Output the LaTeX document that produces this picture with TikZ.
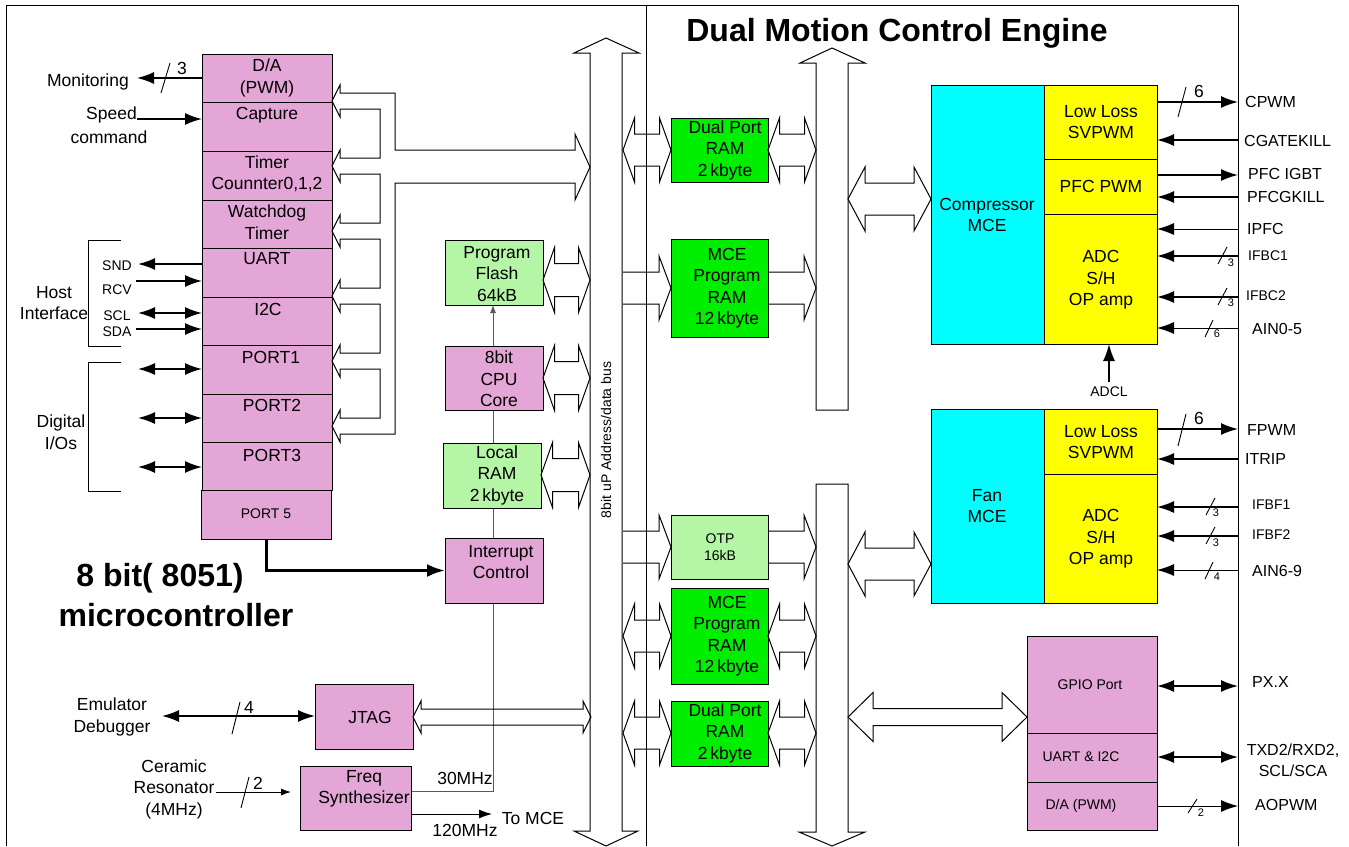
\documentclass[tikz,border=0pt]{standalone}
\usepackage{fontspec}
\setmainfont{Liberation Sans}
\usetikzlibrary{arrows.meta,backgrounds}
\definecolor{pinkc}{RGB}{228,166,214}
\definecolor{lgreen}{RGB}{180,246,166}
\definecolor{bgreen}{RGB}{0,238,0}
\definecolor{cyanc}{RGB}{0,255,255}
\definecolor{yelc}{RGB}{255,255,0}
\newcommand\blk[6]{\node[#6, minimum width={(#4-#2)*1pt}, minimum height={(#5-#3)*1pt}] (#1) at (#2,#3) {};}
\newcommand\hdbl[6]{\draw[hollow] (#1,#3) -- ({#1+#6},{#3-#5}) -- ({#1+#6},{#3-#4}) -- ({#2-#6},{#3-#4}) -- ({#2-#6},{#3-#5}) -- (#2,#3) -- ({#2-#6},{#3+#5}) -- ({#2-#6},{#3+#4}) -- ({#1+#6},{#3+#4}) -- ({#1+#6},{#3+#5}) -- cycle;}
\newcommand\hsgl[6]{\draw[hollow] (#1,{#3-#4}) -- ({#2-#6},{#3-#4}) -- ({#2-#6},{#3-#5}) -- (#2,#3) -- ({#2-#6},{#3+#5}) -- ({#2-#6},{#3+#4}) -- (#1,{#3+#4});}
\begin{document}
\begin{tikzpicture}[x=1pt,y=-1pt,
  box/.style={draw, line width=1pt, inner sep=0pt, outer sep=0pt, anchor=north west},
  pk/.style={box, fill=pinkc},
  lg/.style={box, fill=lgreen},
  bg/.style={box, fill=bgreen},
  cy/.style={box, fill=cyanc},
  ye/.style={box, fill=yelc},
  T/.style={inner sep=0pt, align=center, font=\fontsize{17.5}{21.5}\selectfont},
  S/.style={inner sep=0pt, align=center, font=\fontsize{14}{17}\selectfont},
  M/.style={inner sep=0pt, align=center, font=\fontsize{16}{21}\selectfont},
  tiny/.style={inner sep=0pt, font=\fontsize{11}{12}\selectfont},
  big/.style={inner sep=0pt, font=\fontsize{32}{36}\selectfont\bfseries},
  sig/.style={line width=1.6pt},
  thn/.style={line width=0.9pt},
  clk/.style={line width=0.9pt, draw=black!65},
  hollow/.style={draw, line width=1pt, line join=miter},
  tip/.style={-{Latex[length=17pt,width=12pt]}},
  dbl/.style={{Latex[length=17pt,width=12pt]}-{Latex[length=17pt,width=12pt]}},
]
\useasboundingbox (0,0) rectangle (1349,846);
% frame and divider
\coordinate (rb) at (1238,0);
\draw[line width=1pt] (6,846) -- (6,5) -- (1238,5) -- (1238,846);
\draw[line width=1pt] (646,5) -- (646,846);

% ---------- left column stack ----------
\blk{da}{202}{54}{332}{102}{pk}
\blk{cap}{202}{102}{332}{151}{pk}
\blk{tmr}{202}{151}{332}{200}{pk}
\blk{wdt}{202}{200}{332}{248}{pk}
\blk{uart}{202}{248}{332}{297}{pk}
\blk{iic}{202}{297}{332}{345}{pk}
\blk{pa}{202}{345}{332}{394}{pk}
\blk{pb}{202}{394}{332}{442}{pk}
\blk{pc}{202}{442}{332}{490}{pk}
\blk{pe}{201}{490}{331}{539}{pk}
\node[T] at (267,78) {D/A\\(PWM)};
\node[T] at (267,115) {Capture};
\node[T] at (267,174) {Timer\\Counnter0,1,2};
\node[T] at (267,222) {Watchdog\\Timer};
\node[T] at (267,259) {UART};
\node[T] at (268,309) {I2C};
\node[T] at (271,357) {PORT1};
\node[T] at (272,405) {PORT2};
\node[T] at (272,455) {PORT3};
\node[S] at (266,514) {PORT 5};

% ---------- middle blocks ----------
\begin{pgfonlayer}{background}
\draw[clk, -{Latex[length=8pt,width=6pt]}] (411,791) -- (493,791) -- (493,305);
\end{pgfonlayer}
\blk{flash}{445}{240}{543}{305}{lg}
\blk{cpu}{445}{346}{543}{410}{pk}
\blk{lram}{443}{443}{541}{508}{lg}
\blk{intc}{445}{538}{543}{603}{pk}
\blk{jtag}{315}{684}{413}{749}{pk}
\blk{freq}{300}{766}{411}{830}{pk}
\node[T] at (497,274) {Program\\Flash\\64kB};
\node[T] at (499,379) {8bit\\CPU\\Core};
\node[T] at (497,475) {Local\\RAM\\2\,kbyte};
\node[T] at (501,562) {Interrupt\\Control};
\node[T] at (370,717) {JTAG};
\node[T] at (364,789) {Freq\\Synthesizer};

% ---------- right blocks ----------
\blk{dp1}{671}{118}{768}{182}{bg}
\blk{mp1}{671}{239}{768}{337}{bg}
\blk{otp}{671}{515}{768}{579}{lg}
\blk{mp2}{671}{588}{768}{684}{bg}
\blk{dp2}{671}{701}{768}{766}{bg}
\blk{cmce}{931}{85}{1044}{344}{cy}
\blk{csv}{1044}{85}{1157}{159}{ye}
\blk{cpfc}{1044}{159}{1157}{214}{ye}
\blk{cadc}{1044}{214}{1157}{344}{ye}
\blk{fmce}{931}{409}{1044}{603}{cy}
\blk{fsv}{1044}{409}{1157}{474}{ye}
\blk{fadc}{1044}{474}{1157}{603}{ye}
\blk{gpio}{1027}{636}{1157}{733}{pk}
\blk{guart}{1027}{733}{1157}{782}{pk}
\blk{gda}{1027}{782}{1157}{830}{pk}
\node[T] at (725,150) {Dual Port\\RAM\\2\,kbyte};
\node[T] at (727,288) {MCE\\Program\\RAM\\12\,kbyte};
\node[S] at (720,547) {OTP\\16kB};
\node[T] at (727,636) {MCE\\Program\\RAM\\12\,kbyte};
\node[T] at (725,733) {Dual Port\\RAM\\2\,kbyte};
\node[T] at (987,215) {Compressor\\MCE};
\node[T] at (1101,122) {Low Loss\\SVPWM};
\node[T] at (1101,186) {PFC PWM};
\node[T] at (1101,280) {ADC\\S/H\\OP amp};
\node[T] at (987,506) {Fan\\MCE};
\node[T] at (1101,442) {Low Loss\\SVPWM};
\node[T] at (1101,539) {ADC\\S/H\\OP amp};
\node[S] at (1090,685) {GPIO Port};
\node[S] at (1081,757) {UART \& I2C};
\node[S] at (1081,806) {D/A (PWM)};

% ---------- titles ----------
\node[big] at (897,33) {Dual Motion Control Engine};
\node[big] at (160,578) {8 bit( 8051)};
\node[big] at (176,615) {microcontroller};

% ---------- hollow buses ----------
% comb on the left column
\draw[hollow] (340,93) -- (395,93) -- (395,150) -- (575,150) -- (575,134) -- (590,167) -- (575,200) -- (575,183) -- (395,183) -- (395,434) -- (340,434) -- (340,442) -- (332,426) -- (340,410) -- (340,418) -- (380,418) -- (380,369) -- (340,369) -- (340,377) -- (332,361) -- (340,345) -- (340,353) -- (380,353) -- (380,304) -- (340,304) -- (340,312) -- (332,296) -- (340,280) -- (340,288) -- (380,288) -- (380,239) -- (340,239) -- (340,247) -- (332,231) -- (340,215) -- (340,223) -- (380,223) -- (380,174) -- (340,174) -- (340,182) -- (332,166) -- (340,150) -- (340,158) -- (380,158) -- (380,109) -- (340,109) -- (340,117) -- (332,101) -- (340,85) -- cycle;
% 8 bit bus
\draw[hollow] (590,53) -- (574,53) -- (606,38) -- (639,53) -- (622,53) -- (622,831) -- (638,831) -- (606,846) -- (574,831) -- (590,831) -- cycle;
\node[S, rotate=90] at (606,440) {8bit uP Address/data bus};
% MCE buses
\draw[hollow] (816,410) -- (816,63) -- (800,63) -- (832,48) -- (865,63) -- (848,63) -- (848,410) -- cycle;
\draw[hollow] (816,484) -- (848,484) -- (848,832) -- (865,832) -- (832,846) -- (799,832) -- (816,832) -- cycle;
% block to bus arrows
\hdbl{543}{590}{280}{16.5}{32.5}{11.5}
\hdbl{543}{590}{378}{16.5}{32.5}{11.5}
\hdbl{541}{590}{475}{16.5}{32.5}{11.5}
\hdbl{413}{591}{717}{8}{16}{8}
\hdbl{623}{671}{150}{16}{32}{11.5}
\hsgl{623}{671}{288}{16}{32}{12}
\hsgl{623}{671}{547}{16}{32}{12}
\hdbl{623}{671}{636}{16}{32}{11.5}
\hdbl{623}{671}{733}{16}{32}{11.5}
\hdbl{768}{816}{150}{16}{32}{11.5}
\hsgl{768}{816}{288}{16}{32}{12}
\hsgl{768}{816}{547}{16}{32}{12}
\hdbl{768}{816}{636}{16}{32}{11.5}
\hdbl{768}{816}{733}{16}{32}{11.5}
\hdbl{848}{931}{199}{16}{32}{17}
\hdbl{848}{931}{564}{16}{32}{17}
\hdbl{848}{1027}{717}{8.5}{24.5}{25}

% ---------- left signals ----------
\draw[sig,tip] (da.west |- 0,78) -- (137,78);
\draw[thn] (161,93) -- (170,63);
\node[T] at (182,68) {3};
\node[T] at (88,82) {Monitoring};
\draw[sig,tip] (137,119) -- (cap.west |- 0,119);
\node[T, anchor=east] at (137,115) {Speed};
\node[T] at (109,137) {command};
\draw[sig,tip] (uart.west |- 0,264) -- (138,264);
\draw[sig,tip] (136,281) -- (uart.west |- 0,281);
\draw[sig,dbl] (138,313) -- (iic.west |- 0,313);
\draw[sig,tip] (136,329) -- (iic.west |- 0,329);
\node[S] at (117,266) {SND};
\node[S] at (117,290) {RCV};
\node[S] at (117,316) {SCL};
\node[S] at (117,332) {SDA};
\draw[thn] (121,240) -- (88,240) -- (88,346) -- (121,346);
\node[T] at (54,303) {Host\\Interface};
\draw[sig,dbl] (138,369) -- (pa.west |- 0,369);
\draw[sig,dbl] (138,418) -- (pb.west |- 0,418);
\draw[sig,dbl] (138,467) -- (pc.west |- 0,467);
\draw[thn] (121,362) -- (88,362) -- (88,491) -- (121,491);
\node[T] at (61,432) {Digital\\I/Os};
% port 5 to interrupt
\draw[line width=3pt, -{Latex[length=18pt,width=13pt]}] (pe.south -| 266,0) |- (intc.west);
% emulator
\draw[sig,dbl] (162,716) -- (jtag.west |- 0,716);
\draw[thn] (232,734) -- (240,702);
\node[T] at (249,707) {4};
\node[T] at (112,717) {Emulator\\Debugger};
% ceramic
\draw[thn, -{Latex[length=10pt,width=7pt]}] (216,792) -- (291,792);
\draw[thn] (241,808) -- (249,777);
\node[T] at (258,783) {2};
\node[T] at (174,789) {Ceramic\\Resonator\\(4MHz)};
% clocks
\draw[thn, -{Latex[length=13pt,width=9pt]}] (freq.east |- 0,814) -- (492,814);
\node[T] at (465,778) {30MHz};
\node[T] at (465,830) {120MHz};
\node[T] at (533,818) {To MCE};

% ---------- compressor signals ----------
\draw[sig,tip] (csv.east |- 0,102) -- (rb |- 0,102);
\draw[thn] (1178,117) -- (1186,87);
\node[T] at (1199,91) {6};
\draw[sig,tip] (rb |- 0,140) -- (csv.east |- 0,140);
\draw[sig,tip] (cpfc.east |- 0,175) -- (rb |- 0,175);
\draw[sig,tip] (rb |- 0,197) -- (cpfc.east |- 0,197);
\draw[thn,tip] (rb |- 0,229) -- (cadc.east |- 0,229);
\draw[sig,tip] (rb |- 0,256) -- (cadc.east |- 0,256);
\draw[thn] (1218,264) -- (1227,247);
\node[tiny] at (1231,263) {3};
\draw[sig,tip] (rb |- 0,297) -- (cadc.east |- 0,297);
\draw[thn] (1218,305) -- (1227,288);
\node[tiny] at (1231,303) {3};
\draw[thn,tip] (rb |- 0,328) -- (cadc.east |- 0,328);
\draw[thn] (1205,337) -- (1213,320);
\node[tiny] at (1217,334) {6};
\draw[sig,tip] (1109,382) -- (cadc.south -| 1109,0);
\node[S] at (1109,392) {ADCL};
\node[M, anchor=west] at (1245,102) {CPWM};
\node[M, anchor=west] at (1244,141) {CGATEKILL};
\node[M, anchor=west] at (1248,174) {PFC IGBT};
\node[M, anchor=west] at (1247,197) {PFCGKILL};
\node[M, anchor=west] at (1247,229) {IPFC};
\node[S, anchor=west] at (1248,256) {IFBC1};
\node[S, anchor=west] at (1246,296) {IFBC2};
\node[M, anchor=west] at (1252,329) {AIN0-5};

% ---------- fan signals ----------
\draw[sig,tip] (fsv.east |- 0,429) -- (rb |- 0,429);
\draw[thn] (1178,446) -- (1186,414);
\node[T] at (1199,418) {6};
\draw[sig,tip] (rb |- 0,459) -- (fsv.east |- 0,459);
\draw[sig,tip] (rb |- 0,507) -- (fadc.east |- 0,507);
\draw[thn] (1206,515) -- (1215,498);
\node[tiny] at (1216,513) {3};
\draw[sig,tip] (rb |- 0,536) -- (fadc.east |- 0,536);
\draw[thn] (1206,544) -- (1215,527);
\node[tiny] at (1216,543) {3};
\draw[thn,tip] (rb |- 0,570) -- (fadc.east |- 0,570);
\draw[thn] (1205,579) -- (1213,562);
\node[tiny] at (1217,577) {4};
\node[M, anchor=west] at (1247,430) {FPWM};
\node[M, anchor=west] at (1245,459) {ITRIP};
\node[S, anchor=west] at (1252,505) {IFBF1};
\node[S, anchor=west] at (1252,535) {IFBF2};
\node[M, anchor=west] at (1252,571) {AIN6-9};

% ---------- gpio signals ----------
\draw[sig,dbl] (gpio.east |- 0,686) -- (rb |- 0,686);
\draw[sig,dbl] (guart.east |- 0,757) -- (rb |- 0,757);
\draw[thn,tip] (gda.east |- 0,806) -- (rb |- 0,806);
\draw[thn] (1188,813) -- (1197,799);
\node[tiny] at (1201,813) {2};
\node[M, anchor=west] at (1252,682) {PX.X};
\node[M] at (1293,760) {TXD2/RXD2,\\SCL/SCA};
\node[M, anchor=west] at (1255,805) {AOPWM};
\end{tikzpicture}
\end{document}
